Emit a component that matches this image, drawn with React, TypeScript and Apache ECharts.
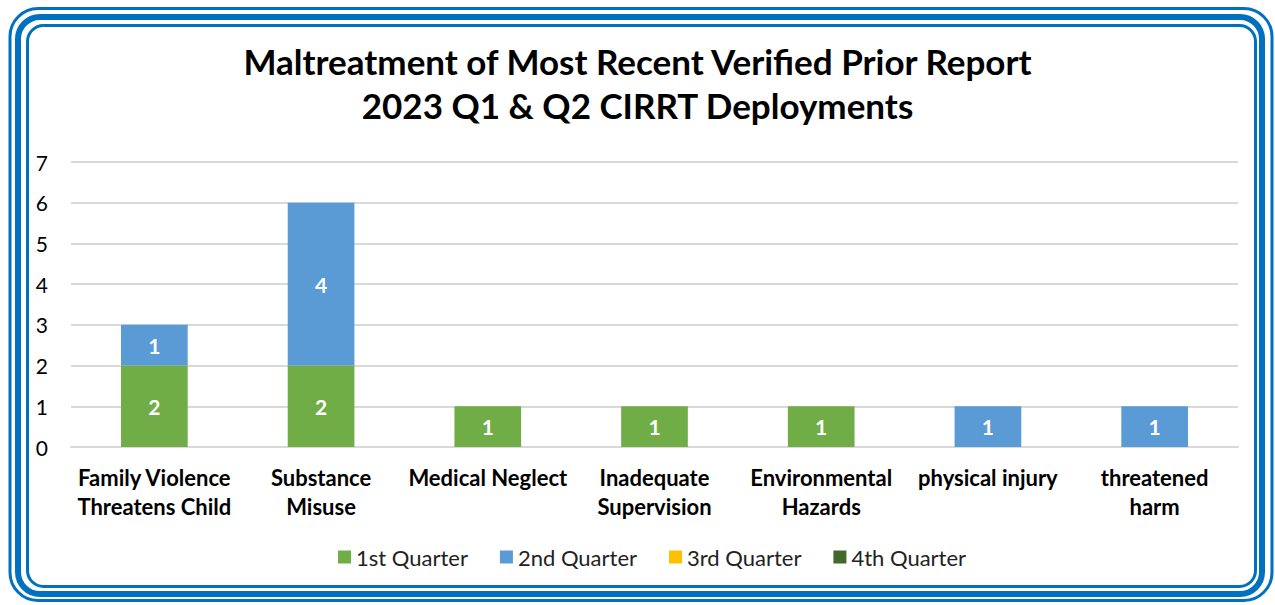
import React, { useEffect, useRef } from "react";
import * as echarts from "echarts";

const categories = [
  "Family Violence\nThreatens Child",
  "Substance\nMisuse",
  "Medical Neglect",
  "Inadequate\nSupervision",
  "Environmental\nHazards",
  "physical injury",
  "threatened\nharm",
];
const q1 = [2, 2, 1, 1, 1, null, null];
const q2 = [1, 4, null, null, null, 1, 1];
const q3 = [null, null, null, null, null, null, null];
const q4 = [null, null, null, null, null, null, null];
const seriesNames = ["1st Quarter", "2nd Quarter", "3rd Quarter", "4th Quarter"];
const colors = ["#70AD47", "#5B9BD5", "#FFC000", "#43682B"];
const titleLines = ["Maltreatment of Most Recent Verified Prior Report", "2023 Q1 & Q2 CIRRT Deployments"];

const FONT = "Lato, 'Open Sans', sans-serif";

export default function App() {
  const ref = useRef<HTMLDivElement>(null);
  useEffect(() => {
    if (!ref.current) return;
    const chart = echarts.init(ref.current, null, { renderer: "svg" });
    const data = [q1, q2, q3, q4];
    chart.setOption({
      animation: false,
      color: colors,
      textStyle: { fontFamily: FONT },
      title: {
        text: titleLines.join("\n"),
        left: "center",
        top: 34,
        textStyle: { fontSize: 35, fontWeight: "bold", color: "#000", lineHeight: 44, fontFamily: FONT },
      },
      legend: {
        bottom: 32,
        left: 333,
        itemWidth: 13,
        itemHeight: 13,
        itemGap: 32,
        icon: "rect",
        textStyle: { fontSize: 22, color: "#222", fontFamily: FONT },
        data: seriesNames,
      },
      grid: { left: 71, right: 37, top: 162, bottom: 158, containLabel: false },
      xAxis: {
        type: "category",
        data: categories,
        axisTick: { show: false },
        axisLine: { lineStyle: { color: "#D9D9D9", width: 2 } },
        axisLabel: { fontSize: 22, fontWeight: "bold", color: "#000", lineHeight: 29, margin: 16, interval: 0, fontFamily: FONT },
      },
      yAxis: {
        type: "value",
        min: 0,
        max: 7,
        interval: 1,
        axisLabel: { fontSize: 21, color: "#000", margin: 23, fontFamily: FONT },
        splitLine: { lineStyle: { color: "#D9D9D9", width: 2 } },
      },
      series: seriesNames.map((name, i) => ({
        name,
        type: "bar",
        stack: "total",
        barWidth: "40%",
        data: data[i],
        label: { show: true, position: "inside", color: "#fff", fontWeight: "bold", fontSize: 21, fontFamily: FONT },
      })),
      graphic: [
        { type: "rect", shape: { x: 10, y: 8.5, width: 1262, height: 592, r: 28 }, style: { fill: "none", stroke: "#0070C0", lineWidth: 3 } },
        { type: "rect", shape: { x: 18, y: 17, width: 1244, height: 577, r: 22 }, style: { fill: "none", stroke: "#0070C0", lineWidth: 6 } },
        { type: "rect", shape: { x: 27.5, y: 25.5, width: 1228, height: 561, r: 16 }, style: { fill: "none", stroke: "#0070C0", lineWidth: 3 } },
      ],
    });
    return () => chart.dispose();
  }, []);
  return <div ref={ref} style={{ position: "absolute", left: 0, top: 0, width: 1275, height: 605 }} />;
}
